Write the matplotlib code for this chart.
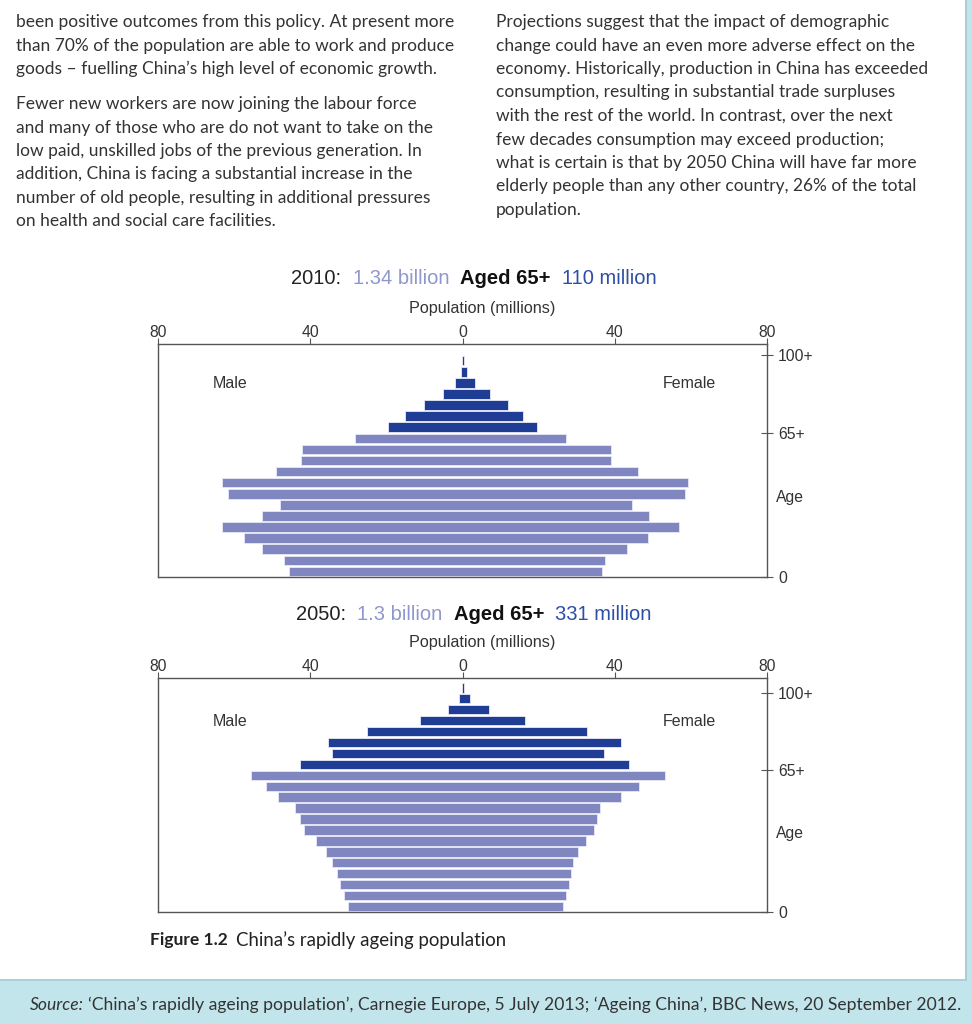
import matplotlib.pyplot as plt
import numpy as np
from matplotlib.offsetbox import TextArea, HPacker, AnchoredOffsetbox
from matplotlib.patches import Rectangle

# age groups, bottom (0-4) to top (100+)
age_mid = [2.5, 7.5, 12.5, 17.5, 22.5, 27.5, 32.5, 37.5, 42.5, 47.5, 52.5,
           57.5, 62.5, 67.5, 72.5, 77.5, 82.5, 87.5, 92.5, 97.5, 102.5]

# 2010 population by age group (millions)
male_2010 = [45.6, 47.0, 52.6, 57.3, 63.3, 52.6, 48.0, 61.7, 63.3, 49.1, 42.3,
             42.1, 28.2, 19.5, 15.0, 10.1, 5.0, 1.9, 0.5, 0.2, 0.0]
female_2010 = [36.6, 37.4, 43.3, 48.7, 57.0, 48.9, 44.6, 58.5, 59.2, 46.2, 38.9,
               38.9, 27.3, 19.5, 15.8, 12.0, 7.1, 3.2, 1.1, 0.5, 0.0]

# 2050 projection (millions)
male_2050 = [30.1, 31.1, 32.1, 33.0, 34.2, 35.8, 38.5, 41.6, 42.8, 44.1, 48.6,
             51.7, 55.6, 42.8, 34.2, 35.4, 25.1, 11.2, 3.9, 1.0, 0.2]
female_2050 = [26.4, 27.1, 27.9, 28.5, 28.9, 30.3, 32.4, 34.6, 35.4, 36.1, 41.7,
               46.5, 53.3, 43.7, 37.1, 41.7, 32.7, 16.5, 6.9, 1.9, 0.5]

x_ticks = [-80, -40, 0, 40, 80]
x_tick_labels = ["80", "40", "0", "40", "80"]

left_col = [
    "been positive outcomes from this policy. At present more",
    "than 70% of the population are able to work and produce",
    "goods \u2013 fuelling China\u2019s high level of economic growth.",
    None,
    "Fewer new workers are now joining the labour force",
    "and many of those who are do not want to take on the",
    "low paid, unskilled jobs of the previous generation. In",
    "addition, China is facing a substantial increase in the",
    "number of old people, resulting in additional pressures",
    "on health and social care facilities.",
]
right_col = [
    "Projections suggest that the impact of demographic",
    "change could have an even more adverse effect on the",
    "economy. Historically, production in China has exceeded",
    "consumption, resulting in substantial trade surpluses",
    "with the rest of the world. In contrast, over the next",
    "few decades consumption may exceed production;",
    "what is certain is that by 2050 China will have far more",
    "elderly people than any other country, 26% of the total",
    "population.",
]

LIGHT = "#8087c0"
DARK = "#1f3d95"
TITLE_LIGHT = "#8f97cc"
TITLE_DARK = "#2c4ea5"
TXT = "#333333"
W, H = 972, 1024

fig = plt.figure(figsize=(9.72, 10.24), dpi=100, facecolor="#c2e5ec")

# white page with a soft shadow
fig.patches.append(Rectangle((0, 1 - 981 / H), 967 / W, 981 / H, transform=fig.transFigure,
                             facecolor="#a9cfd8", edgecolor="none", zorder=-10))
fig.patches.append(Rectangle((0, 1 - 979 / H), 965 / W, 979 / H, transform=fig.transFigure,
                             facecolor="white", edgecolor="none", zorder=-9))

body_font = "Lato"
body_size = 12.5

def put_lines(lines, x, y_positions):
    for line, y in zip(lines, y_positions):
        if line is None:
            continue
        fig.text(x / W, 1 - y / H, line, fontsize=body_size, family=body_font,
                 color=TXT, va="center", ha="left")

left_y = [22, 45.5, 69, None, 104, 127.5, 151, 174.5, 198, 221.5]
put_lines(left_col, 16, left_y)
right_y = [22, 45.5, 69, 92.5, 116, 139.5, 163, 186.5, 210]
put_lines(right_col, 496, right_y)

chart_font = "Liberation Sans"
lab_col = "#333333"


def pyramid(ax_box, male, female, year, total, old, title_y, label_y, ytop):
    ax = fig.add_axes(ax_box)
    ax.set_zorder(2)
    ages = np.array(age_mid)
    m = np.array(male)
    f = np.array(female)
    keep = (m + f) > 0
    colors = np.where(ages > 65, DARK, LIGHT)
    # one bar per age group, running from -male to +female
    ax.barh(ages[keep], (m + f)[keep], left=-m[keep], height=4.3, color=colors[keep],
            edgecolor="#e8e9f5", linewidth=0.6)
    ax.set_xlim(-80, 80)
    ax.set_ylim(0, ytop)

    for s in ax.spines.values():
        s.set_color("#555555")
        s.set_linewidth(1.0)

    ax.xaxis.tick_top()
    ax.set_xticks(x_ticks)
    ax.set_xticklabels(x_tick_labels, family=chart_font, fontsize=11.3, color=lab_col)
    ax.tick_params(axis="x", direction="out", length=4, width=0.8, color="#555555", pad=-1)
    ax.yaxis.tick_right()
    ax.set_yticks([0, 65, 100])
    ax.set_yticklabels(["0", "65+", "100+"], family=chart_font, fontsize=11.3, color=lab_col)
    ax.tick_params(axis="y", direction="inout", length=8, width=0.8, color="#555555", pad=4)
    ax.text(1.015, 36 / ytop, "Age", transform=ax.transAxes, family=chart_font,
            fontsize=11.3, color=lab_col, va="center", ha="left")

    ax.text(-61, 87, "Male", family=chart_font, fontsize=11.5, color=lab_col, ha="center", va="center")
    ax.text(59.5, 87, "Female", family=chart_font, fontsize=11.5, color=lab_col, ha="center", va="center")

    fig.text(482 / W, 1 - label_y / H, "Population (millions)", family=chart_font,
             fontsize=11.6, color=lab_col, ha="center", va="center")

    parts = [
        TextArea(f"{year}:", textprops=dict(family=chart_font, fontsize=14.5, color="#222222")),
        TextArea(total, textprops=dict(family=chart_font, fontsize=14.5, color=TITLE_LIGHT)),
        TextArea("Aged 65+", textprops=dict(family=chart_font, fontsize=14.5, color="#111111",
                                            fontweight="bold")),
        TextArea(old, textprops=dict(family=chart_font, fontsize=14.5, color=TITLE_DARK)),
    ]
    box = HPacker(children=parts, align="baseline", pad=0, sep=8)
    anchored = AnchoredOffsetbox(loc="center", child=box, pad=0, frameon=False,
                                 bbox_to_anchor=(474 / W, 1 - title_y / H),
                                 bbox_transform=fig.transFigure, borderpad=0)
    fig.add_artist(anchored)
    return ax


pyramid([158 / W, 1 - 577 / H, 609 / W, 233 / H], male_2010, female_2010,
        "2010", "1.34 billion", "110 million", 279, 308, 105)
pyramid([158 / W, 1 - 912 / H, 609 / W, 234 / H], male_2050, female_2050,
        "2050", "1.3 billion", "331 million", 614, 643, 107)

# caption
fig.text(150 / W, 1 - 940 / H, "Figure 1.2", fontsize=12.5, family=body_font,
         fontweight="bold", color="#222222", va="center")
fig.text(236 / W, 1 - 940 / H, "China\u2019s rapidly ageing population", fontsize=13.4,
         family=body_font, color="#222222", va="center")

# source strip
fig.text(30 / W, 1 - 1005 / H, "Source:", fontsize=12.6, family=body_font, style="italic",
         color="#333333", va="center")
fig.text(88 / W, 1 - 1005 / H,
         "\u2018China\u2019s rapidly ageing population\u2019, Carnegie Europe, 5 July 2013; "
         "\u2018Ageing China\u2019, BBC News, 20 September 2012.",
         fontsize=12.6, family=body_font, color="#333333", va="center")

fig.savefig("out.png", dpi=100, facecolor=fig.get_facecolor())
